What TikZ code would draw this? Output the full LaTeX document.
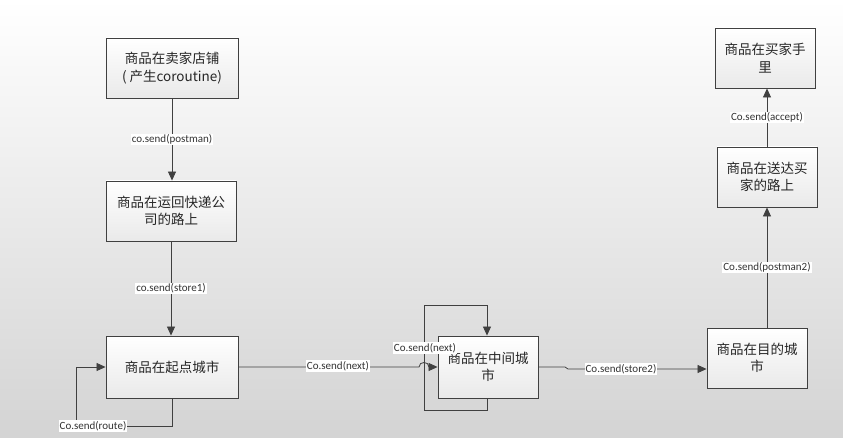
\documentclass[tikz,border=0pt]{standalone}
\usepackage{fontspec}
\setmainfont{Carlito}
\newfontfamily\cjk{Noto Sans CJK SC}
\usetikzlibrary{arrows.meta,calc}
\definecolor{edge}{HTML}{404040}
\begin{document}
\begin{tikzpicture}[x=1pt,y=-1pt,
  box/.style={draw=edge, line width=0.9pt, top color=white, bottom color=gray!17,
    align=center, inner sep=2pt, font=\cjk\fontsize{13.5}{17.5}\selectfont, text=black!85},
  conn/.style={draw=edge, line width=0.8pt},
  arr/.style={conn, -{Triangle[length=9pt,width=8pt]}},
  lbl/.style={fill=white, inner sep=1pt, font=\fontsize{11}{12}\selectfont, text=black!80}]
\shade[top color=white, bottom color=gray!34] (0,0) rectangle (843,438);
\useasboundingbox (0,0) rectangle (843,438);

\node[box, minimum width=132pt, minimum height=60pt] (b1) at (172,68) {商品在卖家店铺\\( 产生coroutine)};
\node[box, minimum width=130pt, minimum height=60pt] (b2) at (171,211) {商品在运回快递公\\司的路上};
\node[box, minimum width=132pt, minimum height=62pt] (b3) at (172,367) {商品在起点城市};
\node[box, minimum width=100pt, minimum height=62pt] (b4) at (488,367) {商品在中间城\\市};
\node[box, minimum width=100pt, minimum height=60pt] (b5) at (757,358) {商品在目的城\\市};
\node[box, minimum width=100pt, minimum height=60pt] (b6) at (767,177) {商品在送达买\\家的路上};
\node[box, minimum width=100pt, minimum height=60pt] (b7) at (765,58) {商品在买家手\\里};

% vertical chain on the left
\draw[arr] (b1.south) -- (b1.south |- b2.north) node[lbl, pos=0.5] (l1) {co.send(postman)};
\draw[arr] (b2.south) -- (b2.south |- b3.north) node[lbl, pos=0.5] (l2) {co.send(store1)};

% self loop of start city
\coordinate (r1) at (172,426);
\coordinate (r2) at (76,426);
\coordinate (r3) at (76,367);
\draw[arr] (b3.south) -- (r1) -- (r2) -- (r3) -- (b3.west);
\node[lbl] (l3) at (93,426) {Co.send(route)};

% self loop of middle city
\coordinate (m1) at (487,410);
\coordinate (m2) at (424,410);
\coordinate (m3) at (424,305);
\coordinate (m4) at (487,305);
\draw[arr] (b4.south -| m1) -- (m1) -- (m2) -- (m3) -- (m4) -- (b4.north -| m4);

% start city -> middle city with a jump over the loop
\coordinate (j1) at (419,367);
\coordinate (j2) at (429,367);
\draw[arr] (b3.east) -- (j1) .. controls (419,361) and (429,361) .. (j2) -- (b4.west);
\node[lbl] (l4) at (338,366) {Co.send(next)};
\node[lbl] (l5) at (425,348) {Co.send(next)};

% middle city -> destination city
\coordinate (s1) at (565,367);
\coordinate (s2) at (568,369);
\draw[arr] (b4.east) -- (s1) -- (s2) -- (s2 -| b5.west);
\node[lbl] (l6) at (621,369) {Co.send(store2)};

% destination -> delivering -> buyer
\draw[arr] (b5.north -| b6.south) -- (b6.south) node[lbl, pos=0.5] (l7) {Co.send(postman2)};
\draw[arr] (b6.north) -- (b6.north |- b7.south) node[lbl, pos=0.5] (l8) {Co.send(accept)};
\end{tikzpicture}
\end{document}
